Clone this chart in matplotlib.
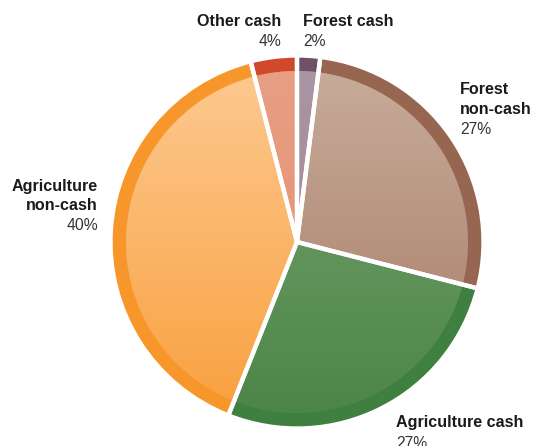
import matplotlib.pyplot as plt
import numpy as np
from matplotlib.colors import to_rgb

# slices go clockwise from 12 o'clock
labels = ['Forest cash', 'Forest non-cash', 'Agriculture cash',
          'Agriculture non-cash', 'Other cash']
shares = [2, 27, 27, 40, 4]

ring_colors = ['#6e5068', '#976651', '#3f7f40', '#f7972b', '#cf4a2b']
inner_top = ['#ab95a3', '#c9ad9c', '#7aa672', '#fdcb94', '#e89f84']
inner_bottom = ['#9c8494', '#a67864', '#4b8446', '#f99f3c', '#e38d6e']

W, H = 533, 446
cx, cy = 297, H - 242
R = 186.5
ring = 15.5
gap = 3

plt.rcParams['font.family'] = ['Liberation Sans', 'DejaVu Sans']

fig = plt.figure(figsize=(W / 100, H / 100), dpi=100)
ax = fig.add_axes([0, 0, 1, 1])

# dark outer band
ax.pie(shares, radius=R, center=(cx, cy), startangle=90, counterclock=False,
       explode=[gap / R] * len(shares), colors=ring_colors,
       wedgeprops=dict(linewidth=0))

# lighter inside with a top-to-bottom gradient
r_in = R - ring
inner, _ = ax.pie(shares, radius=r_in, center=(cx, cy), startangle=90,
                  counterclock=False, explode=[gap / r_in] * len(shares),
                  colors=inner_bottom, wedgeprops=dict(linewidth=0))
t = np.linspace(0, 1, 256)[:, None, None]
for w, top, bot in zip(inner, inner_top, inner_bottom):
    img = np.array(to_rgb(bot)) * (1 - t) + np.array(to_rgb(top)) * t
    img = np.repeat(img, 2, axis=1)
    im = ax.imshow(img, extent=(cx - R, cx + R, cy - R, cy + R),
                   origin='lower', interpolation='bilinear', zorder=2)
    im.set_clip_path(w)

# white separators on top
edges, _ = ax.pie(shares, radius=R, center=(cx, cy), startangle=90,
                  counterclock=False, explode=[gap / R] * len(shares),
                  colors=['none'] * len(shares),
                  wedgeprops=dict(edgecolor='white', linewidth=3.1))
for e in edges:
    e.set_zorder(3)

# labels: (title lines, x, first y, ha)
label_pos = [
    (['Forest cash'], 303, 22, 'left'),
    (['Forest', 'non-cash'], 460, 90, 'left'),
    (['Agriculture cash'], 396, 423, 'left'),
    (['Agriculture', 'non-cash'], 98, 187, 'right'),
    (['Other cash'], 281, 22, 'right'),
]
for (lines, x, y, ha), s in zip(label_pos, shares):
    for i, line in enumerate(lines):
        ax.text(x, H - (y + 19 * i), line, ha=ha, va='center', fontsize=11.6,
                fontweight='bold', color='#1a1a1a')
    ax.text(x, H - (y + 19 * len(lines) + 1), f'{s}%', ha=ha, va='center',
            fontsize=11.3, color='#333333')

ax.set_xlim(0, W)
ax.set_ylim(0, H)
ax.axis('off')
fig.savefig('out.png', dpi=100)
